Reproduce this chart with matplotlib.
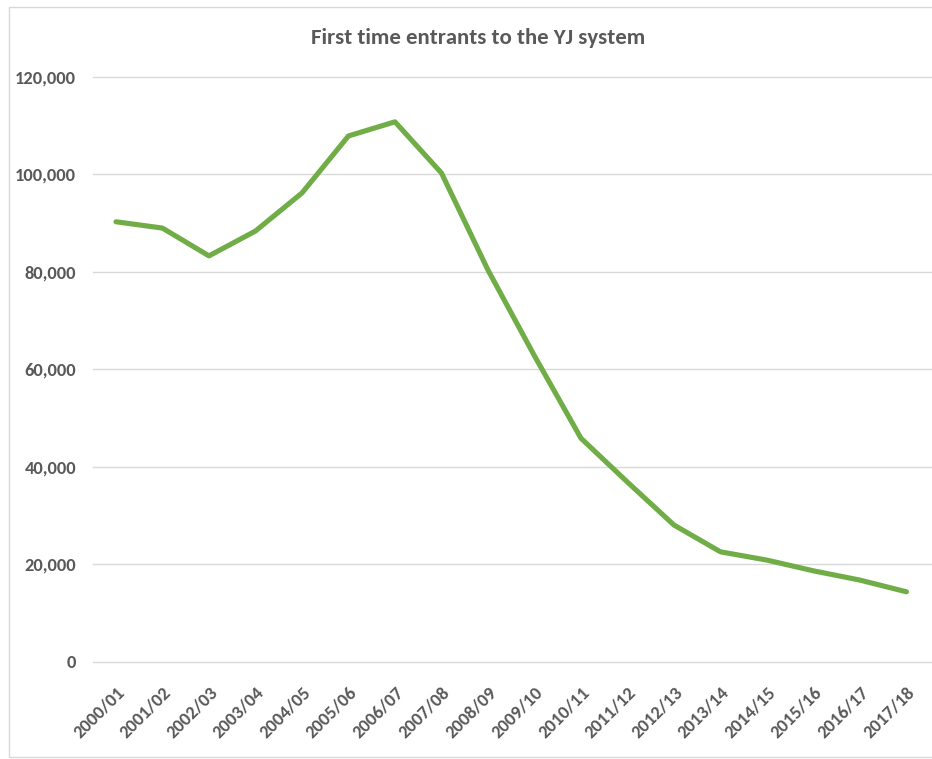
import matplotlib.pyplot as plt
from matplotlib.patches import Rectangle
from matplotlib.ticker import FuncFormatter

# data
years = ["2000/01", "2001/02", "2002/03", "2003/04", "2004/05", "2005/06",
         "2006/07", "2007/08", "2008/09", "2009/10", "2010/11", "2011/12",
         "2012/13", "2013/14", "2014/15", "2015/16", "2016/17", "2017/18"]
entrants = [90300, 89000, 83300, 88400, 96200, 107900, 110800, 100300,
            80400, 62800, 45900, 36900, 28100, 22600, 20900, 18700, 16800, 14400]

plt.rcParams['font.family'] = ['Carlito', 'DejaVu Sans']
grey = "#595959"

fig = plt.figure(figsize=(9.32, 7.59), dpi=100)
ax = fig.add_axes([0.0995, 0.1278, 0.9005, 0.7708])

# outer chart frame
fig.patches.append(Rectangle((9 / 932, 2 / 759), 1.0, 750 / 759, transform=fig.transFigure,
                             fill=False, edgecolor="#D9D9D9", linewidth=1.0))

x = range(len(years))
ax.plot(x, entrants, color="#70AD47", linewidth=3.7, solid_capstyle="round",
        solid_joinstyle="round", zorder=3)

ax.set_ylim(0, 120000)
ax.set_yticks(range(0, 120001, 20000))
ax.yaxis.set_major_formatter(FuncFormatter(lambda v, p: f"{int(v):,}"))
ax.set_xlim(-0.5, 17.55)
ax.set_xticks(list(x))
ax.set_xticklabels(years, rotation=45, ha="right", rotation_mode="anchor")

ax.grid(axis="y", color="#D9D9D9", linewidth=1.0, clip_on=False)
ax.set_axisbelow(True)
for s in ax.spines.values():
    s.set_visible(False)
ax.tick_params(length=0, colors=grey, labelsize=13.3)
ax.tick_params(axis="y", pad=12)
ax.tick_params(axis="x", pad=16)
for lbl in ax.get_xticklabels() + ax.get_yticklabels():
    lbl.set_fontweight("bold")

fig.text(0.513, 0.95, "First time entrants to the YJ system", ha="center", va="center",
         fontsize=16.4, fontweight="bold", color=grey)

fig.savefig("out.png", dpi=100)
